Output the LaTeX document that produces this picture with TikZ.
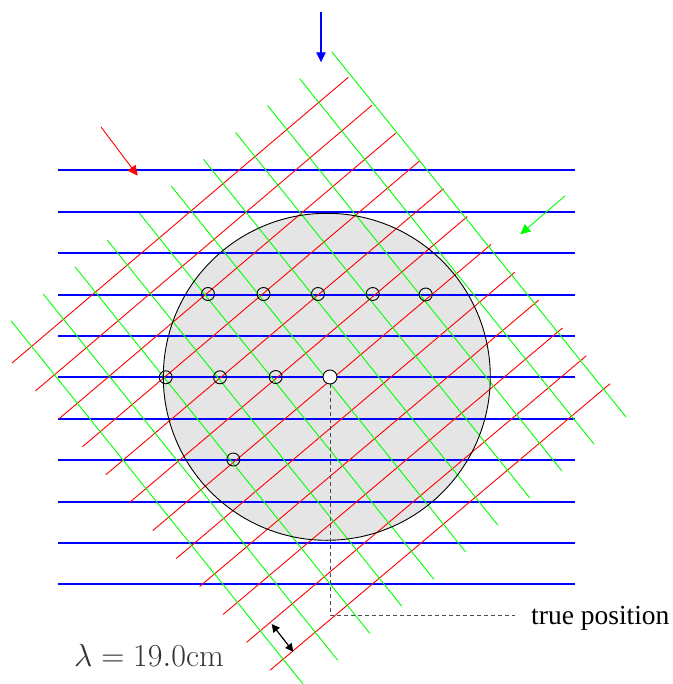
\RequirePackage{fix-cm}
\documentclass[tikz,border=0pt]{standalone}
\usepackage{fontspec}
\newfontfamily\timesfont{Liberation Serif}
\usetikzlibrary{arrows.meta}
\begin{document}
\begin{tikzpicture}[x=1pt,y=-1pt,
  bline/.style={blue,line width=1.25pt},
  rline/.style={red,line width=0.9pt},
  gline/.style={green,line width=0.9pt},
  headtip/.style={-{Triangle[length=10pt,width=9.5pt]}},
  ring/.style={draw=black,line width=0.9pt},
  dash line/.style={black!70,line width=0.9pt,dash pattern=on 4pt off 3pt}]
\useasboundingbox (0,0) rectangle (672,684);
\clip (0,0) rectangle (672,684);
% disk
\coordinate (C) at (326.8,376.8);
\fill[black!10] (C) circle[radius=163.5];
% blue wavefronts
\foreach \yy in {170,212,253,295,336,377,419,460,502,543,584}
  \draw[bline] (58,\yy) -- (575,\yy);
% red wavefronts
\foreach \i in {0,...,11}
  \draw[rline] ({12+23.45*\i},{363+27.94*\i}) -- ({348.3+23.8*\i},{77.3+27.85*\i});
% green wavefronts
\foreach \j in {0,...,10}
  \draw[gline] ({331.7-32.07*\j},{51.7+26.9*\j}) -- ({626-32.03*\j},{417+27.03*\j});
% disk outline
\draw[black,line width=0.9pt] (C) circle[radius=163.5];
% dashed leader to label
\coordinate (P) at (330,377);
\coordinate (D) at (330,615);
\coordinate (E) at (515,615);
\draw[dash line] (P) -- (D) -- (E);
% ambiguity circles
\foreach \p in {(208,294),(263.5,294),(318,294),(372.7,294),(425.7,294.5),
                (165.7,377.3),(220,377.3),(275.7,377),(233.3,459.5)}
  \draw[ring] \p circle[radius=6.5];
% true position
\draw[ring,fill=white] (P) circle[radius=7];
% incidence arrows
\coordinate (bA) at (321,11.7);  \coordinate (bB) at (321,62.3);
\coordinate (rA) at (101,127);   \coordinate (rB) at (137.7,175.7);
\coordinate (gA) at (565.3,195.7); \coordinate (gB) at (520.3,234.3);
\draw[blue,line width=1.2pt,headtip] (bA) -- (bB);
\draw[red,line width=0.9pt,headtip] (rA) -- (rB);
\draw[green,line width=0.9pt,headtip] (gA) -- (gB);
% wavelength arrow
\coordinate (wA) at (271.7,624); \coordinate (wB) at (293.3,651.7);
\draw[black,line width=1.2pt,{Triangle[length=8pt,width=8pt]}-{Triangle[length=8pt,width=8pt]}] (wA) -- (wB);
% labels
\node[anchor=base west,inner sep=0pt,text=black!80,font=\fontsize{32}{38}\selectfont] (lam) at (74,666.7) {$\lambda = 19.0$cm};
\node[anchor=base west,inner sep=0pt,text=black,font=\timesfont\fontsize{27.5}{33}\selectfont] (tp) at (531,624) {true position};
\end{tikzpicture}
\end{document}
